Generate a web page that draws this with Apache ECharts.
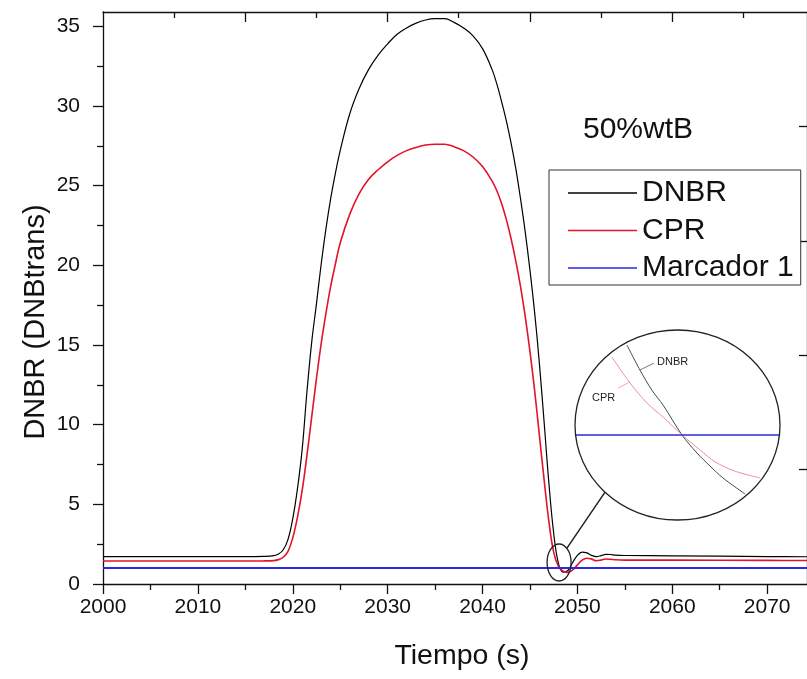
<!DOCTYPE html>
<html><head><meta charset="utf-8">
<script src="https://cdn.jsdelivr.net/npm/echarts@6/dist/echarts.min.js"></script>
<style>html,body{margin:0;padding:0;background:#fff}#c{width:807px;height:679px}</style>
</head><body><div id="c"></div>
<script>
// ---- data ----
const time = [2000,2010,2016,2017,2018,2018.5,2019,2019.5,2020,2020.5,2021,2021.5,2022,2022.5,2023,2023.5,2024,2024.5,2025,2026,2027,2028,2029,2030,2031,2032,2033,2034,2035,2036,2037,2038,2039,2040,2041,2041.5,2042,2042.5,2043,2043.5,2044,2044.5,2045,2045.5,2046,2046.5,2047,2047.5,2048,2048.5,2049,2049.5,2050,2050.5,2051,2051.5,2052,2052.5,2053,2053.5,2054,2055,2060,2070,2075];
const dnbr = [1.72,1.72,1.72,1.73,1.78,1.88,2.15,2.8,4.1,6.0,8.5,12.1,15.2,17.6,20.1,22.3,24.2,25.8,27.2,29.5,31.1,32.3,33.2,33.9,34.5,34.9,35.2,35.4,35.48,35.48,35.25,34.9,34.4,33.6,32.3,31.4,30.3,29.1,27.7,26.1,24.2,22.1,19.7,17.0,13.8,10.1,6.3,3.2,1.3,0.75,0.85,1.35,1.8,2.0,1.95,1.8,1.72,1.78,1.86,1.85,1.81,1.79,1.77,1.72,1.71];
const cpr = [1.44,1.44,1.44,1.45,1.47,1.53,1.68,2.05,2.9,4.2,5.9,8.1,10.5,12.9,15.1,17.0,18.7,20.1,21.4,23.2,24.5,25.4,26.0,26.5,26.9,27.2,27.4,27.55,27.6,27.6,27.45,27.2,26.8,26.2,25.3,24.7,23.9,22.9,21.7,20.3,18.7,16.8,14.6,12.1,9.3,6.5,3.9,2.0,1.1,0.8,0.73,0.88,1.2,1.5,1.62,1.56,1.46,1.5,1.57,1.55,1.52,1.5,1.5,1.48,1.47];
const marcadorTime = [2000, 2075];
const marcador = [1.0, 1.0];

// magnified inset (around the crossing with Marcador 1)
const insetDnbrTime = [2048.052,2048.090,2048.125,2048.158,2048.213,2048.257,2048.295,2048.333,2048.398];
const insetDnbr     = [1.263,1.190,1.131,1.087,1.000,0.947,0.909,0.874,0.827];
const insetCprTime  = [2048.008,2048.061,2048.111,2048.158,2048.213,2048.266,2048.310,2048.368,2048.442];
const insetCpr      = [1.228,1.152,1.093,1.052,1.000,0.956,0.921,0.894,0.874];
const insetMarcadorTime = [2047.9, 2048.5];
const insetMarcador = [1.0, 1.0];

// tick values
const xMajor = [2000,2010,2020,2030,2040,2050,2060,2070];
const xMinor = [2005,2015,2025,2035,2045,2055,2065];
const yMajor = [0,5,10,15,20,25,30,35];
const yMinor = [2.5,7.5,12.5,17.5,22.5,27.5,32.5];
const topMajor = [2,4,6,8];
const topMinor = [1,3,5,7,9];
const rightTicks = [1,2,3,4];

const zip = (a,b) => a.map((v,i)=>[v,b[i]]);
const FONT = 'Liberation Sans';
const INK = '#111';

const chart = echarts.init(document.getElementById('c'));
const G = {left:103, top:12, width:705, height:572};
const tickLine = {color:INK, width:1.3};
const line = (show) => ({show:show, onZero:false, lineStyle:tickLine});

// grid 0: bottom/left major ticks + labels (series); grid 1: bottom/left minor ticks;
// grid 2: top major ticks + right ticks; grid 3: top minor ticks; grid 4: inset
chart.setOption({
  animation:false,
  textStyle:{fontFamily:FONT},
  grid:[
    Object.assign({}, G), Object.assign({}, G), Object.assign({}, G), Object.assign({}, G),
    {left:575, top:330, width:205, height:190}
  ],
  xAxis:[
    {gridIndex:0, type:'value', position:'bottom', min:2000, max:2074.2,
     axisLine:line(true),
     axisTick:{show:true, customValues:xMajor, length:10, lineStyle:tickLine},
     axisLabel:{show:true, customValues:xMajor, fontSize:21, color:INK, margin:13, formatter:v=>String(v)},
     splitLine:{show:false},
     name:'Tiempo (s)', nameLocation:'middle', nameGap:58,
     nameTextStyle:{fontSize:28.5, color:INK, padding:[0,0,0,14]}},
    {gridIndex:1, type:'value', position:'bottom', min:2000, max:2074.2,
     axisLine:line(false),
     axisTick:{show:true, customValues:xMinor, length:6, lineStyle:tickLine},
     axisLabel:{show:false}, splitLine:{show:false}},
    {gridIndex:2, type:'value', position:'top', min:0, max:9.895,
     axisLine:line(true),
     axisTick:{show:true, inside:true, customValues:topMajor, length:10, lineStyle:tickLine},
     axisLabel:{show:false}, splitLine:{show:false}},
    {gridIndex:3, type:'value', position:'top', min:0, max:9.895,
     axisLine:line(false),
     axisTick:{show:true, inside:true, customValues:topMinor, length:6, lineStyle:tickLine},
     axisLabel:{show:false}, splitLine:{show:false}},
    {gridIndex:4, type:'value', min:2047.9, max:2048.5, show:false}
  ],
  yAxis:[
    {gridIndex:0, type:'value', position:'left', min:0, max:35.9,
     axisLine:line(true),
     axisTick:{show:true, customValues:yMajor, length:10, lineStyle:tickLine},
     axisLabel:{show:true, customValues:yMajor, fontSize:21, color:INK, margin:23},
     splitLine:{show:false}},
    {gridIndex:1, type:'value', position:'left', min:0, max:35.9,
     axisLine:line(false),
     axisTick:{show:true, customValues:yMinor, length:6, lineStyle:tickLine},
     axisLabel:{show:false}, splitLine:{show:false}},
    {gridIndex:2, type:'value', position:'right', min:0, max:5,
     axisLine:line(true),
     axisTick:{show:true, inside:true, customValues:rightTicks, length:8, lineStyle:tickLine},
     axisLabel:{show:false}, splitLine:{show:false}},
    {gridIndex:3, type:'value', min:0, max:1, show:false},
    {gridIndex:4, type:'value', min:0.751, max:1.307, show:false}
  ],
  legend:{
    data:['DNBR','CPR','Marcador 1'], orient:'vertical', left:549, top:170,
    padding:[8,7,2,19], itemGap:7.5, itemWidth:69, itemHeight:1.5, icon:'rect',
    borderColor:'#333', borderWidth:1, backgroundColor:'#fff',
    textStyle:{fontSize:30, color:INK, lineHeight:30, fontFamily:FONT}
  },
  series:[
    {name:'DNBR', type:'line', xAxisIndex:0, yAxisIndex:0, data:zip(time,dnbr),
     symbol:'none', smooth:0.4, lineStyle:{color:'#000', width:1.2}, itemStyle:{color:'#000'}},
    {name:'CPR', type:'line', xAxisIndex:0, yAxisIndex:0, data:zip(time,cpr),
     symbol:'none', smooth:0.4, lineStyle:{color:'#e3132b', width:1.6}, itemStyle:{color:'#e3132b'}},
    {name:'Marcador 1', type:'line', xAxisIndex:0, yAxisIndex:0, data:zip(marcadorTime,marcador),
     symbol:'none', lineStyle:{color:'#2a2ae6', width:2}, itemStyle:{color:'#2a2ae6'}},
    {name:'insetDNBR', type:'line', xAxisIndex:4, yAxisIndex:4, data:zip(insetDnbrTime,insetDnbr),
     symbol:'none', smooth:0.3, clip:false, lineStyle:{color:'#3a4f45', width:1}},
    {name:'insetCPR', type:'line', xAxisIndex:4, yAxisIndex:4, data:zip(insetCprTime,insetCpr),
     symbol:'none', smooth:0.3, clip:false, lineStyle:{color:'#e8909a', width:1}},
    {name:'insetMarcador', type:'line', xAxisIndex:4, yAxisIndex:4, data:zip(insetMarcadorTime,insetMarcador),
     symbol:'none', clip:false, lineStyle:{color:'#2b2bd6', width:1.5}}
  ]
});

// annotations placed through the axes
const inset = {xAxisIndex:4, yAxisIndex:4};
const main = {xAxisIndex:0, yAxisIndex:0};
const bc = chart.convertToPixel(inset, [2048.2, (0.751+1.307)/2]);
const b0 = chart.convertToPixel(inset, [2047.9, 1.307]);
const brx = bc[0]-b0[0], bry = bc[1]-b0[1];
const sc = chart.convertToPixel(main, [2048.07, 1.35]);
const srx = 12, sry = 18.5;
const a1 = -50*Math.PI/180, a2 = 135*Math.PI/180;
const p1 = [sc[0]+srx*Math.cos(a1), sc[1]+sry*Math.sin(a1)];
const p2 = [bc[0]+brx*Math.cos(a2), bc[1]+bry*Math.sin(a2)];
const dl = chart.convertToPixel(inset, [2048.140, 1.213]);
const cl = chart.convertToPixel(inset, [2047.950, 1.108]);
const dA = chart.convertToPixel(inset, [2048.090, 1.190]);
const dB = chart.convertToPixel(inset, [2048.131, 1.210]);
const cA = chart.convertToPixel(inset, [2048.026, 1.137]);
const cB = chart.convertToPixel(inset, [2048.061, 1.155]);

chart.setOption({
  graphic:[
    {type:'ellipse', shape:{cx:bc[0], cy:bc[1], rx:brx, ry:bry}, style:{fill:'none', stroke:'#222', lineWidth:1.3}, z:10},
    {type:'ellipse', shape:{cx:sc[0], cy:sc[1], rx:srx, ry:sry}, style:{fill:'none', stroke:'#222', lineWidth:1.3}, z:10},
    {type:'line', shape:{x1:p1[0], y1:p1[1], x2:p2[0], y2:p2[1]}, style:{stroke:'#222', lineWidth:1.5}, z:10},
    {type:'line', shape:{x1:dA[0], y1:dA[1], x2:dB[0], y2:dB[1]}, style:{stroke:'#555', lineWidth:0.8}, z:10},
    {type:'line', shape:{x1:cA[0], y1:cA[1], x2:cB[0], y2:cB[1]}, style:{stroke:'#e8909a', lineWidth:0.8}, z:10},
    {type:'text', x:dl[0], y:dl[1], style:{text:'DNBR', fontSize:11, fontFamily:FONT, fill:'#222', align:'left', verticalAlign:'middle'}, z:10},
    {type:'text', x:cl[0], y:cl[1], style:{text:'CPR', fontSize:11, fontFamily:FONT, fill:'#222', align:'left', verticalAlign:'middle'}, z:10},
    {type:'text', x:583, y:130, style:{text:'50%wtB', fontSize:30, fontFamily:FONT, fill:INK, align:'left', verticalAlign:'middle'}, z:10},
    {type:'text', x:36, y:322, rotation:Math.PI/2, style:{text:'DNBR (DNBtrans)', fontSize:29, fontFamily:FONT, fill:INK, align:'center', verticalAlign:'middle'}, z:10}
  ]
});
</script>
</body></html>
